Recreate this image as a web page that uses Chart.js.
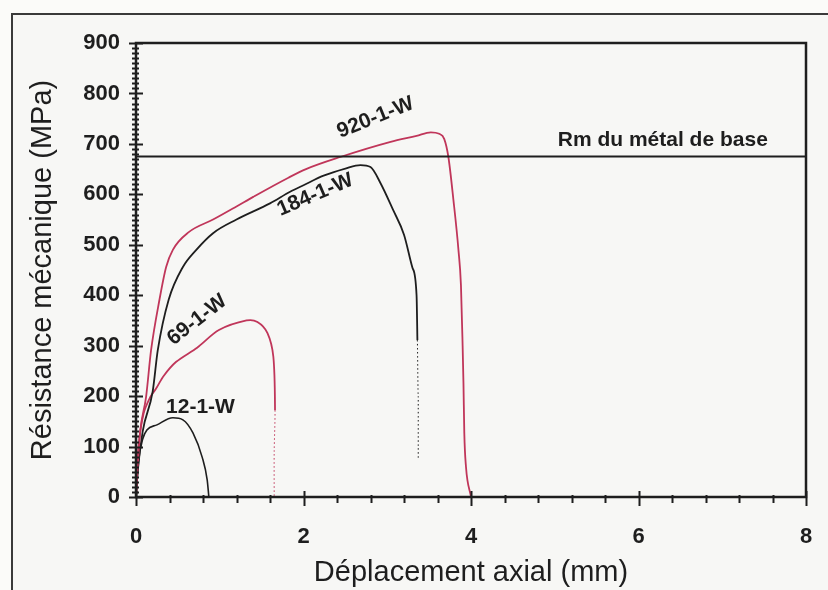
<!DOCTYPE html>
<html>
<head>
<meta charset="utf-8">
<script src="https://cdn.jsdelivr.net/npm/chart.js@4.4.1/dist/chart.umd.min.js"></script>
<style>
  html,body{margin:0;padding:0;background:#fbfbf9;}
  #wrap{width:828px;height:590px;}
</style>
</head>
<body>
<div id="wrap"><canvas id="c" width="828" height="590"></canvas></div>
<script>
// ---- data ----
const xTickValues = [0, 2, 4, 6, 8];
const yTickValues = [0, 100, 200, 300, 400, 500, 600, 700, 800, 900];

const disp920 = [0, 0.02, 0.05, 0.12, 0.18, 0.28, 0.36, 0.44, 0.63, 0.92, 1.2, 1.4, 1.82, 2.03, 2.44, 3.04, 3.35, 3.52, 3.62, 3.68, 3.73, 3.79, 3.85, 3.88, 3.9, 3.91, 3.92, 3.94, 4.0];
const res920  = [0, 60, 130, 198, 291, 391, 456, 490, 525, 550, 576, 595, 633, 650, 674, 704, 716, 723, 720, 710, 674, 589, 490, 420, 300, 226, 127, 60, 0];

const disp184 = [0, 0.02, 0.08, 0.2, 0.26, 0.39, 0.56, 0.72, 0.92, 1.2, 1.6, 1.84, 2.0, 2.24, 2.5, 2.68, 2.8, 2.92, 3.07, 3.2, 3.3, 3.35, 3.36, 3.37, 3.37];
const res184  = [0, 50, 130, 210, 291, 391, 456, 490, 523, 550, 582, 605, 618, 637, 651, 658, 654, 622, 569, 520, 455, 400, 311, 200, 77];

const disp69 = [0, 0.03, 0.09, 0.17, 0.24, 0.33, 0.48, 0.73, 0.99, 1.32, 1.45, 1.57, 1.64, 1.66, 1.65, 1.65];
const res69  = [0, 100, 165, 198, 215, 240, 268, 296, 331, 350, 347, 325, 278, 172, 90, 0];

const disp12 = [0, 0.03, 0.08, 0.13, 0.25, 0.44, 0.56, 0.68, 0.79, 0.85, 0.87];
const res12  = [0, 70, 115, 133, 143, 157, 153, 127, 79, 34, 0];

const rmBase = 675;            // Rm du métal de base (MPa)
const rmSpan = [0, 8];

const zip = (xs, ys) => xs.map((x, i) => ({x: x, y: ys[i]}));

const RED = '#c0365a';
const BLK = '#1e1e1e';
const FONT = '"Liberation Sans", Arial, sans-serif';

// curve labels anchored in data coordinates
const curveLabels = [
  {text: '920-1-W', x: 2.86, y: 752, rot: -22},
  {text: '184-1-W', x: 2.14, y: 599, rot: -23},
  {text: '69-1-W',  x: 0.73, y: 351, rot: -38},
  {text: '12-1-W',  x: 0.77, y: 179, rot: 0},
  {text: 'Rm du métal de base', x: 6.29, y: 708, rot: 0}
];

const framePlugin = {
  id: 'frame',
  beforeDraw(chart) {
    const ctx = chart.ctx;
    ctx.save();
    ctx.fillStyle = '#fbfbf9';
    ctx.fillRect(0, 0, chart.width, chart.height);
    ctx.fillStyle = '#f7f7f5';
    ctx.fillRect(12, 14, chart.width - 12, chart.height - 14);
    ctx.strokeStyle = '#3a3a3a';
    ctx.lineWidth = 2;
    ctx.beginPath();
    ctx.moveTo(12, chart.height);
    ctx.lineTo(12, 14);
    ctx.lineTo(chart.width, 14);
    ctx.stroke();
    ctx.restore();
  },
  afterDraw(chart) {
    const ctx = chart.ctx;
    const a = chart.chartArea;
    const xs = chart.scales.x, ys = chart.scales.y;
    ctx.save();
    ctx.strokeStyle = '#1e1e1e';
    ctx.lineWidth = 2.5;
    ctx.strokeRect(a.left, a.top, a.right - a.left, a.bottom - a.top);
    ctx.lineWidth = 2;
    ctx.beginPath();
    for (let v = 0; v <= 900; v += 10) {
      const py = Math.round(ys.getPixelForValue(v)) + 0.5;
      const major = v % 100 === 0;
      ctx.moveTo(a.left - (major ? 7 : 4), py);
      ctx.lineTo(a.left + (major ? 7 : 3), py);
    }
    for (let i = 0; i <= 20; i++) {
      const v = i * 0.4;
      const px = Math.round(xs.getPixelForValue(v)) + 0.5;
      const major = i % 5 === 0;
      ctx.moveTo(px, a.bottom - (major ? 6 : 2));
      ctx.lineTo(px, a.bottom + (major ? 9 : 6));
    }
    ctx.stroke();
    ctx.restore();
  },
  afterDatasetsDraw(chart) {
    const ctx = chart.ctx;
    const xs = chart.scales.x, ys = chart.scales.y;
    ctx.save();
    ctx.fillStyle = '#1e1e1e';
    ctx.font = 'bold 21px ' + FONT;
    ctx.textBaseline = 'middle';
    ctx.textAlign = 'center';
    curveLabels.forEach(l => {
      ctx.save();
      ctx.translate(xs.getPixelForValue(l.x), ys.getPixelForValue(l.y));
      ctx.rotate(l.rot * Math.PI / 180);
      ctx.fillText(l.text, 0, 0);
      ctx.restore();
    });
    ctx.restore();
  }
};

const dotted = (xmin, ymax) => ({
  borderDash: c => (c.p0.parsed.x >= xmin && c.p0.parsed.y <= ymax && c.p1.parsed.y <= ymax) ? [1.5, 2.5] : undefined,
  borderWidth: c => (c.p0.parsed.x >= xmin && c.p0.parsed.y <= ymax && c.p1.parsed.y <= ymax) ? 1 : undefined
});

new Chart(document.getElementById('c'), {
  type: 'line',
  data: {
    datasets: [
      {label: 'Rm', data: zip(rmSpan, [rmBase, rmBase]), borderColor: BLK, borderWidth: 2, pointRadius: 0, tension: 0},
      {label: '920-1-W', data: zip(disp920, res920), borderColor: RED, borderWidth: 1.8, pointRadius: 0, cubicInterpolationMode: 'monotone'},
      {label: '184-1-W', data: zip(disp184, res184), borderColor: BLK, borderWidth: 1.8, pointRadius: 0, cubicInterpolationMode: 'monotone', segment: dotted(3.3, 320)},
      {label: '69-1-W', data: zip(disp69, res69), borderColor: RED, borderWidth: 1.8, pointRadius: 0, tension: 0.3, segment: dotted(1.6, 172)},
      {label: '12-1-W', data: zip(disp12, res12), borderColor: BLK, borderWidth: 1.6, pointRadius: 0, cubicInterpolationMode: 'monotone'}
    ]
  },
  options: {
    responsive: false,
    animation: false,
    events: [],
    layout: {padding: {left: 26, top: 43, right: 22, bottom: 0}},
    plugins: {legend: {display: false}, tooltip: {enabled: false}},
    scales: {
      x: {
        type: 'linear', min: 0, max: 8,
        afterBuildTicks: s => { s.ticks = xTickValues.map(v => ({value: v})); },
        afterFit: s => { s.height = 93; },
        grid: {display: false, drawTicks: false},
        border: {display: false},
        ticks: {padding: 4, color: '#1e1e1e', font: {family: FONT, size: 22, weight: 'bold', lineHeight: '72px'}},
        title: {display: true, text: 'Déplacement axial (mm)', color: '#1e1e1e', padding: {top: 0, bottom: 0},
                font: {family: FONT, size: 29}}
      },
      y: {
        type: 'linear', min: 0, max: 900,
        afterBuildTicks: s => { s.ticks = yTickValues.map(v => ({value: v})); },
        afterFit: s => { s.width = 110; },
        grid: {display: false, drawTicks: false},
        border: {display: false},
        ticks: {padding: 16, color: '#1e1e1e', font: {family: FONT, size: 22, weight: 'bold'}},
        title: {display: true, text: 'Résistance mécanique (MPa)', color: '#1e1e1e', padding: {top: 0, bottom: 0},
                font: {family: FONT, size: 29}}
      }
    }
  },
  plugins: [framePlugin]
});
</script>
</body>
</html>
